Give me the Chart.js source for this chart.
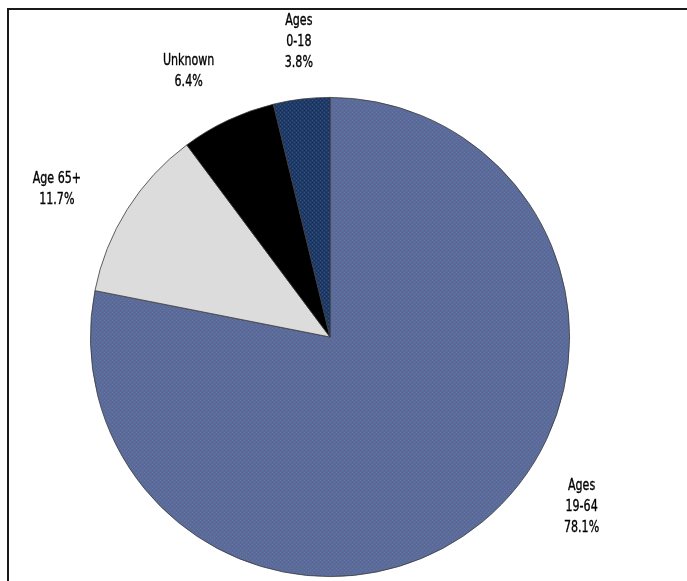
<!DOCTYPE html>
<html>
<head>
<meta charset="utf-8">
<script src="https://cdn.jsdelivr.net/npm/chart.js@4/dist/chart.umd.min.js"></script>
<style>
  html, body { margin: 0; padding: 0; background: #fff; }
  #wrap { position: relative; width: 687px; height: 581px; overflow: hidden; }
  #frame { position: absolute; left: 7px; top: 8px; right: -5px; bottom: -5px;
           border-left: 2px solid #1a1a1a; border-top: 2px solid #1a1a1a; pointer-events: none; }
  canvas { position: absolute; left: 0; top: 0; }
</style>
</head>
<body>
<div id="wrap">
  <canvas id="c" width="687" height="581"></canvas>
  <div id="frame"></div>
</div>
<script>
const categories = ["Ages 19-64", "Age 65+", "Unknown", "Ages 0-18"];
const labelLines = [["Ages", "19-64", "78.1%"], ["Age 65+", "11.7%"], ["Unknown", "6.4%"], ["Ages", "0-18", "3.8%"]];
const values = [78.1, 11.7, 6.4, 3.8];
const colors = ["#5a6a98", "#dcdcdc", "#000000", "#1d3866"];
// label block centres relative to pie centre, in units of the pie radius
const labelOffsets = [[1.05, 0.71], [-1.14, -0.615], [-0.59, -1.11], [-0.13, -1.23]];

function makePattern(base, a, b) {
  const p = document.createElement('canvas');
  p.width = 4; p.height = 4;
  const g = p.getContext('2d');
  g.fillStyle = base; g.fillRect(0, 0, 4, 4);
  g.fillStyle = a; g.fillRect(0, 0, 1, 1); g.fillRect(2, 2, 1, 1);
  g.fillStyle = b; g.fillRect(2, 0, 1, 1); g.fillRect(0, 2, 1, 1);
  return g.createPattern(p, 'repeat');
}

const ctx = document.getElementById('c').getContext('2d');
const fills = [
  makePattern('#5b6a98', '#4d8596', '#6b5da6'),
  colors[1],
  colors[2],
  makePattern('#1f3a68', '#2a5a70', '#1a2c5c')
];

const labelPlugin = {
  id: 'sliceLabels',
  afterDraw(chart) {
    const meta = chart.getDatasetMeta(0);
    const c = chart.ctx;
    const sx = 0.77;
    c.save();
    c.font = '16px "DejaVu Sans Condensed", "Liberation Sans Narrow", sans-serif';
    c.fillStyle = '#000';
    c.strokeStyle = '#000';
    c.lineWidth = 0.35;
    c.textAlign = 'center';
    c.textBaseline = 'middle';
    const lh = 21;
    meta.data.forEach((arc, i) => {
      const r = arc.outerRadius;
      const cx = arc.x + labelOffsets[i][0] * r;
      const cy = arc.y + labelOffsets[i][1] * r;
      const lines = labelLines[i];
      const top = cy - (lines.length - 1) * lh / 2;
      lines.forEach((t, k) => {
        c.save();
        c.translate(cx, top + k * lh);
        c.scale(sx, 1);
        c.fillText(t, 0, 0);
        c.strokeText(t, 0, 0);
        c.restore();
      });
    });
    c.restore();
  }
};

new Chart(ctx, {
  type: 'pie',
  data: {
    labels: categories,
    datasets: [{
      data: values,
      backgroundColor: fills,
      borderColor: '#3a3a3a',
      borderWidth: 0.8
    }]
  },
  options: {
    responsive: false,
    animation: false,
    layout: { padding: { top: 97, bottom: 4, left: 90, right: 117 } },
    plugins: { legend: { display: false }, tooltip: { enabled: false } }
  },
  plugins: [labelPlugin]
});
</script>
</body>
</html>
